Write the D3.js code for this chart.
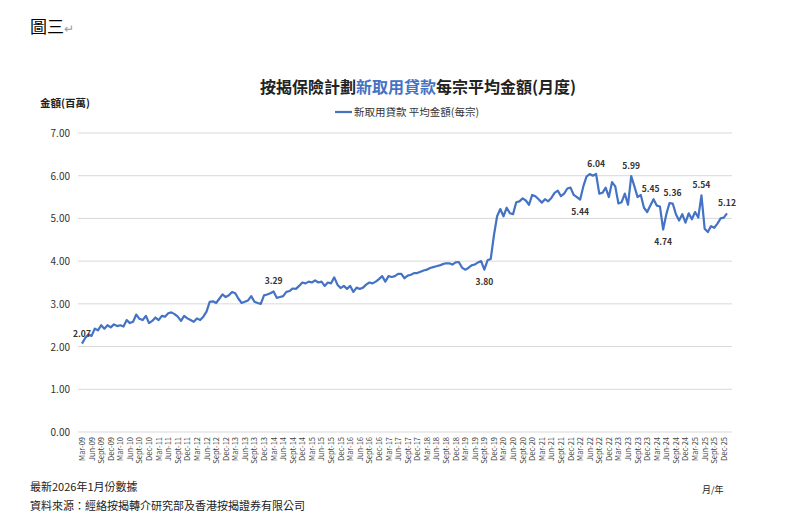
<!DOCTYPE html>
<html>
<head>
<meta charset="utf-8">
<script src="https://cdn.jsdelivr.net/npm/d3@7"></script>
<style>
body { margin: 0; background: #fff; font-family: "Noto Sans CJK TC", "Noto Sans", sans-serif; }
</style>
</head>
<body>
<div id="chart"></div>
<script>
// monthly values, Mar-09 .. Jan-26 (millions HKD)
var v2009 = [2.07, 2.20, 2.28, 2.25, 2.42, 2.38, 2.50, 2.42, 2.50, 2.45];
var v2010 = [2.52, 2.48, 2.50, 2.47, 2.62, 2.55, 2.58, 2.75, 2.65, 2.62, 2.72, 2.55];
var v2011 = [2.60, 2.68, 2.62, 2.72, 2.70, 2.78, 2.80, 2.76, 2.70, 2.60, 2.72, 2.66];
var v2012 = [2.62, 2.58, 2.66, 2.62, 2.70, 2.82, 3.05, 3.06, 3.02, 3.12, 3.22, 3.16];
var v2013 = [3.20, 3.28, 3.25, 3.12, 3.02, 3.05, 3.08, 3.18, 3.05, 3.02, 3.00, 3.20];
var v2014 = [3.22, 3.25, 3.29, 3.14, 3.16, 3.18, 3.28, 3.30, 3.36, 3.35, 3.42, 3.50];
var v2015 = [3.48, 3.52, 3.50, 3.55, 3.50, 3.52, 3.42, 3.50, 3.48, 3.62, 3.45, 3.37];
var v2016 = [3.42, 3.35, 3.42, 3.28, 3.38, 3.35, 3.38, 3.45, 3.50, 3.48, 3.52, 3.58];
var v2017 = [3.65, 3.52, 3.65, 3.63, 3.65, 3.70, 3.70, 3.60, 3.66, 3.68, 3.72, 3.72];
var v2018 = [3.75, 3.78, 3.80, 3.84, 3.86, 3.88, 3.90, 3.93, 3.95, 3.95, 3.92, 3.97];
var v2019 = [3.98, 3.85, 3.80, 3.84, 3.90, 3.92, 3.97, 4.00, 3.80, 4.02, 4.05, 4.60];
var v2020 = [5.05, 5.22, 5.05, 5.25, 5.12, 5.10, 5.38, 5.40, 5.47, 5.42, 5.32, 5.55];
var v2021 = [5.52, 5.45, 5.37, 5.45, 5.40, 5.48, 5.60, 5.65, 5.52, 5.58, 5.70, 5.72];
var v2022 = [5.55, 5.50, 5.44, 5.75, 5.98, 6.04, 6.00, 6.04, 5.58, 5.60, 5.72, 5.50];
var v2023 = [5.85, 5.75, 5.35, 5.38, 5.58, 5.32, 5.99, 5.75, 5.50, 5.55, 5.25, 5.15];
var v2024 = [5.30, 5.45, 5.30, 5.28, 4.74, 5.10, 5.36, 5.35, 5.10, 4.95, 5.10, 4.90];
var v2025 = [5.12, 4.98, 5.15, 5.02, 5.54, 4.76, 4.68, 4.82, 4.78, 4.88, 5.00, 5.02];
var v2026 = [5.12];

var values = [].concat(v2009, v2010, v2011, v2012, v2013, v2014, v2015, v2016,
                       v2017, v2018, v2019, v2020, v2021, v2022, v2023, v2024, v2025, v2026);

var monthNames = ["Jan","Feb","Mar","Apr","May","Jun","Jul","Aug","Sept","Oct","Nov","Dec"];
// month index (0 = Mar-09) of labelled points, whether the label sits above, small x nudge
var labelIdx = [0, 60, 126, 156, 161, 172, 179, 182, 184, 194, 202];
var labelAbove = [true, true, false, false, true, true, true, false, true, true, true];
var labelNudge = [0, 0, 0, 0, 0, 0, -3, 0, 3, 0, 0];
var yTicks = [0, 1, 2, 3, 4, 5, 6, 7];

var W = 788, H = 525;
var svg = d3.select("#chart").append("svg").attr("width", W).attr("height", H);

function monthLabel(i) {
  var m = (2 + i) % 12, y = 9 + Math.floor((2 + i) / 12);
  return monthNames[m] + "-" + (y < 10 ? "0" + y : y);
}

var x = d3.scaleLinear().domain([0, values.length - 1]).range([82, 727]);
var y = d3.scaleLinear().domain([0, 7]).range([432, 133]);

// gridlines
svg.append("g").selectAll("line").data(yTicks).enter().append("line")
  .attr("x1", 78).attr("x2", 732)
  .attr("y1", function(d){ return y(d); }).attr("y2", function(d){ return y(d); })
  .style("stroke", "#d9d9d9").style("stroke-width", 1);

svg.append("g").selectAll("text").data(yTicks).enter().append("text")
  .attr("x", 70).attr("y", function(d){ return y(d) + 4; })
  .attr("text-anchor", "end").style("font-size", "10px").style("fill", "#333")
  .text(function(d){ return d.toFixed(2); });

// x tick labels every quarter
var qIdx = d3.range(0, 202, 3);
svg.append("g").selectAll("text").data(qIdx).enter().append("text")
  .attr("transform", function(d){ return "translate(" + (x(d) + 3) + ",437) rotate(-90)"; })
  .attr("text-anchor", "end").style("font-size", "7.5px").style("fill", "#444")
  .text(function(d){ return monthLabel(d); });

// the line
var line = d3.line().x(function(d, i){ return x(i); }).y(function(d){ return y(d); });
svg.append("path").datum(values).attr("d", line)
  .style("fill", "none").style("stroke", "#4472c4").style("stroke-width", 2.2)
  .style("stroke-linejoin", "round");

// data labels
svg.append("g").selectAll("text").data(labelIdx).enter().append("text")
  .attr("x", function(d, i){ return x(d) + labelNudge[i]; })
  .attr("y", function(d, i){ return y(values[d]) + (labelAbove[i] ? -7 : 15); })
  .attr("text-anchor", "middle").style("font-size", "8.5px").style("font-weight", "bold")
  .style("fill", "#333")
  .text(function(d){ return values[d].toFixed(2); });

// titles and texts
svg.append("text").attr("x", 30).attr("y", 33).style("font-size", "17px").style("fill", "#000").text("圖三");
svg.append("text").attr("x", 64).attr("y", 33).style("font-size", "12px").style("fill", "#999").text("↵");

var title = svg.append("text").attr("x", 418).attr("y", 93).attr("text-anchor", "middle")
  .style("font-size", "16px").style("font-weight", "bold").style("fill", "#222");
title.append("tspan").text("按揭保險計劃");
title.append("tspan").style("fill", "#4472c4").text("新取用貸款");
title.append("tspan").text("每宗平均金額(月度)");

svg.append("line").attr("x1", 335).attr("x2", 352).attr("y1", 112).attr("y2", 112)
  .style("stroke", "#4472c4").style("stroke-width", 2.2);
svg.append("text").attr("x", 354).attr("y", 116).style("font-size", "10.5px").style("fill", "#333")
  .text("新取用貸款 平均金額(每宗)");

svg.append("text").attr("x", 40).attr("y", 107).style("font-size", "10.5px").style("font-weight", "bold")
  .style("fill", "#222").text("金額(百萬)");

svg.append("text").attr("x", 30).attr("y", 491).style("font-size", "11px").style("fill", "#222").text("最新2026年1月份數據");
svg.append("text").attr("x", 30).attr("y", 510).style("font-size", "11px").style("fill", "#222").text("資料來源：經絡按揭轉介研究部及香港按揭證券有限公司");
svg.append("text").attr("x", 702).attr("y", 493).style("font-size", "9px").style("fill", "#222").text("月/年");
</script>
</body>
</html>
